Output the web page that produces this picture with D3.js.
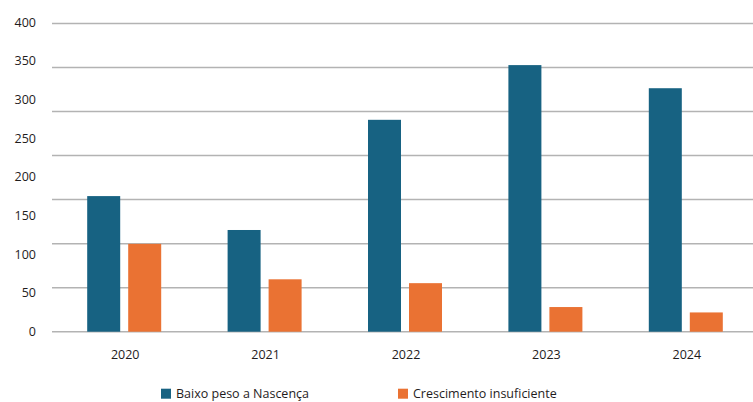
<!DOCTYPE html>
<html>
<head>
<meta charset="utf-8">
<script src="https://cdn.jsdelivr.net/npm/d3@7"></script>
<style>
  html, body { margin: 0; padding: 0; background: #fff; }
  svg { display: block; font-family: "Open Sans", "Noto Sans", sans-serif; }
</style>
</head>
<body>
<svg id="chart" width="753" height="402"></svg>
<script>
// Data
const years = ["2020", "2021", "2022", "2023", "2024"];
const baixoPeso = [176, 132, 275, 346, 316];
const crescimento = [114, 68, 63, 32, 25];
const seriesNames = ["Baixo peso a Nascença", "Crescimento insuficiente"];
const yTickLabels = [0, 50, 100, 150, 200, 250, 300, 350, 400];

const colors = ["#176282", "#ea7233"];
const textColor = "#1f1c1d";

const svg = d3.select("#chart");
const W = 753, H = 402;
const x0 = 54, x1 = 756;
const yBottom = 331.7, yTop = 23.5;

const x = d3.scaleBand().domain(years).range([x0, x1]).padding(0);
const y = d3.scaleLinear().domain([0, 400]).range([yBottom, yTop]);
// tick labels sit on their own slightly compressed spacing
const yLab = d3.scaleLinear().domain([0, 400]).range([yBottom, 22]);

// horizontal gridlines (7 equal divisions of the value range)
const gridVals = d3.range(0, 8).map(i => i * 400 / 7);
svg.append("g")
  .selectAll("line")
  .data(gridVals)
  .join("line")
  .attr("x1", 52).attr("x2", W)
  .attr("y1", d => y(d)).attr("y2", d => y(d))
  .attr("stroke", "#b3b3b3")
  .attr("stroke-width", 1.5);

// y tick labels
svg.append("g")
  .selectAll("text")
  .data(yTickLabels)
  .join("text")
  .attr("x", 36)
  .attr("y", d => yLab(d))
  .attr("dy", "0.36em")
  .attr("text-anchor", "end")
  .attr("font-size", 12.5)
  .attr("fill", textColor)
  .text(d => d);

// bars
const barW = 33, gap = 8;
const groupW = barW * 2 + gap;
const series = [baixoPeso, crescimento];
series.forEach((vals, si) => {
  svg.append("g")
    .selectAll("rect")
    .data(vals)
    .join("rect")
    .attr("x", (d, i) => x(years[i]) + x.bandwidth() / 2 - groupW / 2 + si * (barW + gap))
    .attr("y", d => y(d))
    .attr("width", barW)
    .attr("height", d => y(0) - y(d))
    .attr("fill", colors[si]);
});

// x labels
svg.append("g")
  .selectAll("text")
  .data(years)
  .join("text")
  .attr("x", d => x(d) + x.bandwidth() / 2 + 1)
  .attr("y", 358.5)
  .attr("text-anchor", "middle")
  .attr("font-size", 12.5)
  .attr("fill", textColor)
  .text(d => d);

// legend
const legendX = [161, 398];
const lg = svg.append("g");
seriesNames.forEach((name, i) => {
  lg.append("rect")
    .attr("x", legendX[i]).attr("y", 388.7)
    .attr("width", 10).attr("height", 10)
    .attr("fill", colors[i]);
  lg.append("text")
    .attr("x", legendX[i] + 15).attr("y", 398)
    .attr("font-size", 12.5)
    .attr("fill", textColor)
    .text(name);
});
</script>
</body>
</html>
